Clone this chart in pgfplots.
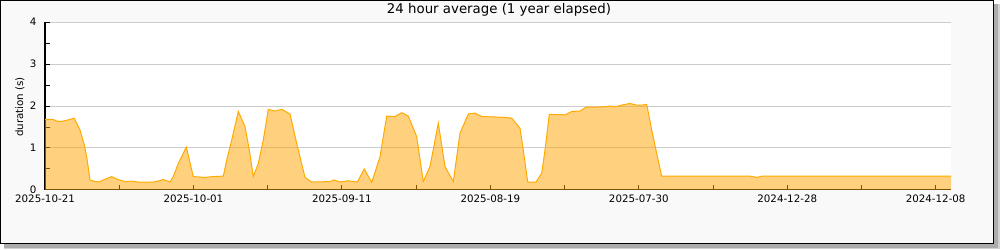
\documentclass[border=0pt]{standalone}
\usepackage{fontspec}
\setmainfont{DejaVu Sans}
\usepackage{pgfplots}
\pgfplotsset{compat=1.18}
\definecolor{bgc}{RGB}{249,249,249}
\definecolor{fillc}{RGB}{255,165,0}
\definecolor{linec}{RGB}{255,170,0}
\definecolor{gridc}{RGB}{204,204,204}
\begin{document}
\begin{tikzpicture}
\path[use as bounding box] (0,0) rectangle (750pt,187.5pt);
\begin{scope}[x=0.75pt,y=0.75pt]
\fill[white] (0,0) rectangle (1000,250);
\fill[gray!35] (4,0.5) rectangle (999.5,246);
\fill[gray!65] (4,2) rectangle (997.5,246);
\draw[fill=bgc, line width=0.75pt] (0.5,6) rectangle (993.5,249.5);
\end{scope}
\begin{axis}[
 at={(33.75pt,45pt)}, anchor=south west,
 scale only axis, width=679.5pt, height=126pt,
 xmin=45, xmax=951, ymin=0, ymax=4,
 axis x line=bottom, axis y line=left,
 axis line style={-, black, line width=0.75pt},
 axis background/.style={fill=white},
 xtick={45,193.45,341.9,490.35,638.8,787.25,935.7},
 xticklabels={2025-10-21,2025-10-01,2025-09-11,2025-08-19,2025-07-30,2024-12-28,2024-12-08},
 minor xtick={119.2,267.7,416.1,564.6,713.0,861.5},
 ytick={0,1,2,3,4}, minor ytick={0.5,1.5,2.5,3.5},
 yticklabels={0,1,2,3,4},
 tick align=inside, major tick length=3.75pt, minor tick length=3.75pt,
 major tick style={black, line width=0.75pt},
 minor tick style={black, line width=0.75pt},
 ymajorgrids, major grid style={gridc, line width=0.75pt},
 every tick label/.append style={font=\fontsize{7.7pt}{9pt}\selectfont},
 yticklabel style={xshift=-3pt},
]
\addplot[draw=none, fill=fillc, fill opacity=0.5] coordinates {
(45,1.68) (53,1.68) (58,1.63) (63,1.64) (70,1.68) (74.3,1.71) (80,1.43) (84.3,1.07) (86.7,0.79)
(90,0.24) (95,0.20) (99.3,0.19) (103.3,0.24) (111.7,0.32) (116.7,0.26) (125,0.20) (131.7,0.21)
(138.3,0.19) (153.3,0.19) (159.3,0.22) (163.3,0.25) (170,0.19) (173.3,0.32) (178.3,0.63) (186.3,1.02)
(193.3,0.32) (205,0.30) (213.3,0.32) (223.3,0.33) (226.7,0.71) (231.7,1.19) (238.3,1.87) (245,1.51)
(249.3,0.95) (253.3,0.32) (258.3,0.63) (263.3,1.19) (268.3,1.92) (275,1.88) (281.7,1.92) (290,1.81)
(296.7,1.11) (305,0.30) (311.7,0.19) (330,0.20) (334,0.24) (340,0.19) (348.3,0.22) (357.3,0.19)
(364.3,0.50) (371.7,0.18) (380,0.79) (386.7,1.76) (395,1.75) (401.7,1.84) (408.3,1.76) (416.7,1.27)
(423.3,0.20) (430,0.56) (438.3,1.59) (445,0.56) (453.3,0.20) (460,1.35) (468.3,1.81) (475,1.83)
(481.7,1.75) (505,1.73) (511.7,1.71) (520,1.47) (523.3,0.95) (527.7,0.19) (536,0.19) (541.7,0.40)
(545,0.95) (549.3,1.80) (565,1.79) (571.7,1.87) (580,1.88) (586,1.97) (605,1.98) (610,2.00)
(615,1.98) (623.3,2.03) (630,2.06) (636.7,2.02) (641.7,2.02) (646.7,2.04) (651.7,1.43) (656.7,0.87)
(661.7,0.33) (750,0.33) (757,0.30) (762,0.33) (951,0.33)
} \closedcycle;
\addplot[linec, line width=0.75pt] coordinates {
(45,1.68) (53,1.68) (58,1.63) (63,1.64) (70,1.68) (74.3,1.71) (80,1.43) (84.3,1.07) (86.7,0.79)
(90,0.24) (95,0.20) (99.3,0.19) (103.3,0.24) (111.7,0.32) (116.7,0.26) (125,0.20) (131.7,0.21)
(138.3,0.19) (153.3,0.19) (159.3,0.22) (163.3,0.25) (170,0.19) (173.3,0.32) (178.3,0.63) (186.3,1.02)
(193.3,0.32) (205,0.30) (213.3,0.32) (223.3,0.33) (226.7,0.71) (231.7,1.19) (238.3,1.87) (245,1.51)
(249.3,0.95) (253.3,0.32) (258.3,0.63) (263.3,1.19) (268.3,1.92) (275,1.88) (281.7,1.92) (290,1.81)
(296.7,1.11) (305,0.30) (311.7,0.19) (330,0.20) (334,0.24) (340,0.19) (348.3,0.22) (357.3,0.19)
(364.3,0.50) (371.7,0.18) (380,0.79) (386.7,1.76) (395,1.75) (401.7,1.84) (408.3,1.76) (416.7,1.27)
(423.3,0.20) (430,0.56) (438.3,1.59) (445,0.56) (453.3,0.20) (460,1.35) (468.3,1.81) (475,1.83)
(481.7,1.75) (505,1.73) (511.7,1.71) (520,1.47) (523.3,0.95) (527.7,0.19) (536,0.19) (541.7,0.40)
(545,0.95) (549.3,1.80) (565,1.79) (571.7,1.87) (580,1.88) (586,1.97) (605,1.98) (610,2.00)
(615,1.98) (623.3,2.03) (630,2.06) (636.7,2.02) (641.7,2.02) (646.7,2.04) (651.7,1.43) (656.7,0.87)
(661.7,0.33) (750,0.33) (757,0.30) (762,0.33) (951,0.33)
};
\end{axis}
\begin{scope}[x=0.75pt,y=0.75pt]
\node[font=\fontsize{10pt}{12pt}\selectfont, inner sep=0pt] at (499,240) {24 hour average (1 year elapsed)};
\node[font=\fontsize{7.7pt}{9pt}\selectfont, inner sep=0pt, rotate=90] at (20,143) {duration (s)};
\end{scope}
\end{tikzpicture}
\end{document}
